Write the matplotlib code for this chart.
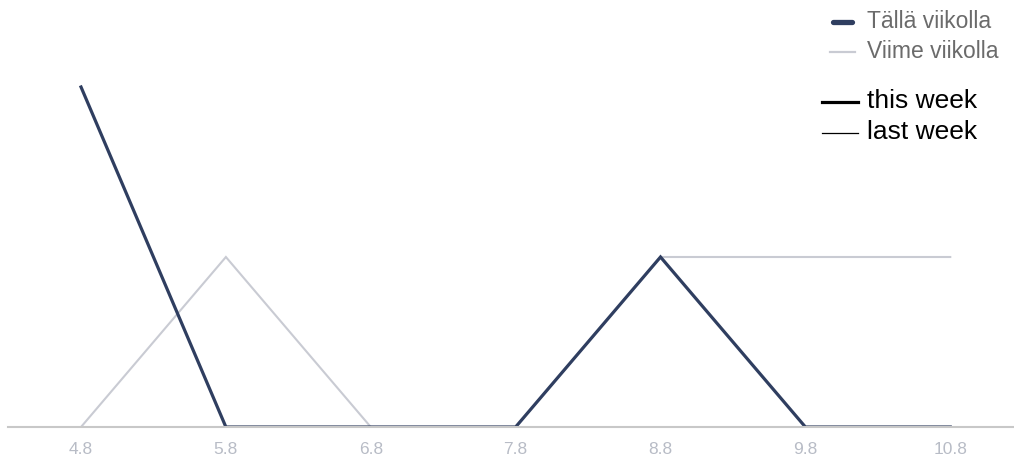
import matplotlib
matplotlib.use("Agg")
import matplotlib.pyplot as plt
from matplotlib.lines import Line2D

dates = ["4.8", "5.8", "6.8", "7.8", "8.8", "9.8", "10.8"]
this_week = [2, 0, 0, 0, 1, 0, 0]
last_week = [0, 1, 0, 0, 1, 1, 1]

plt.rcParams['font.family'] = ['Liberation Sans', 'DejaVu Sans']

navy = "#2f3e60"
light = "#c9cbd3"
W, H = 1014, 462

fig = plt.figure(figsize=(W/100, H/100), dpi=100)
ax = fig.add_axes([8/W, (H-427)/H, 1 - 8/W, 425/H])
x = list(range(len(dates)))
ax.plot(x, last_week, color=light, lw=1.5, solid_joinstyle='miter')
ax.plot(x, this_week, color=navy, lw=2.3, solid_joinstyle='miter')
ax.set_xlim(-0.504, 6.44)
ax.set_ylim(0, 2.5)
ax.set_xticks(x)
ax.set_xticklabels(dates, color="#b8bcc6", fontsize=12.5)
ax.tick_params(axis='x', length=0, pad=11)
ax.set_yticks([])
for s in ['top', 'right', 'left']:
    ax.spines[s].set_visible(False)
ax.spines['bottom'].set_color("#c8c8c8")
ax.spines['bottom'].set_linewidth(1.5)

def fx(px):
    return px / W

def fy(py):
    return 1 - py / H

# Legend 1 (coloured)
fig.add_artist(Line2D([fx(833), fx(852)], [fy(22), fy(22)], color=navy, lw=3.8,
                      solid_capstyle='round', transform=fig.transFigure))
fig.text(fx(867), fy(21), "Tällä viikolla", color="#6b6b6b", fontsize=16.5,
         va='center', ha='left')
fig.add_artist(Line2D([fx(830), fx(855)], [fy(52), fy(52)], color=light, lw=1.6,
                      transform=fig.transFigure))
fig.text(fx(867), fy(51), "Viime viikolla", color="#6b6b6b", fontsize=16.5,
         va='center', ha='left')

# Legend 2 (black)
fig.add_artist(Line2D([fx(822), fx(858)], [fy(102), fy(102)], color="black", lw=2.3,
                      transform=fig.transFigure))
fig.text(fx(867), fy(101), "this week", color="black", fontsize=19,
         va='center', ha='left')
fig.add_artist(Line2D([fx(822), fx(858)], [fy(133), fy(133)], color="black", lw=0.9,
                      transform=fig.transFigure))
fig.text(fx(867), fy(132), "last week", color="black", fontsize=19,
         va='center', ha='left')

fig.savefig("out.png", dpi=100)
